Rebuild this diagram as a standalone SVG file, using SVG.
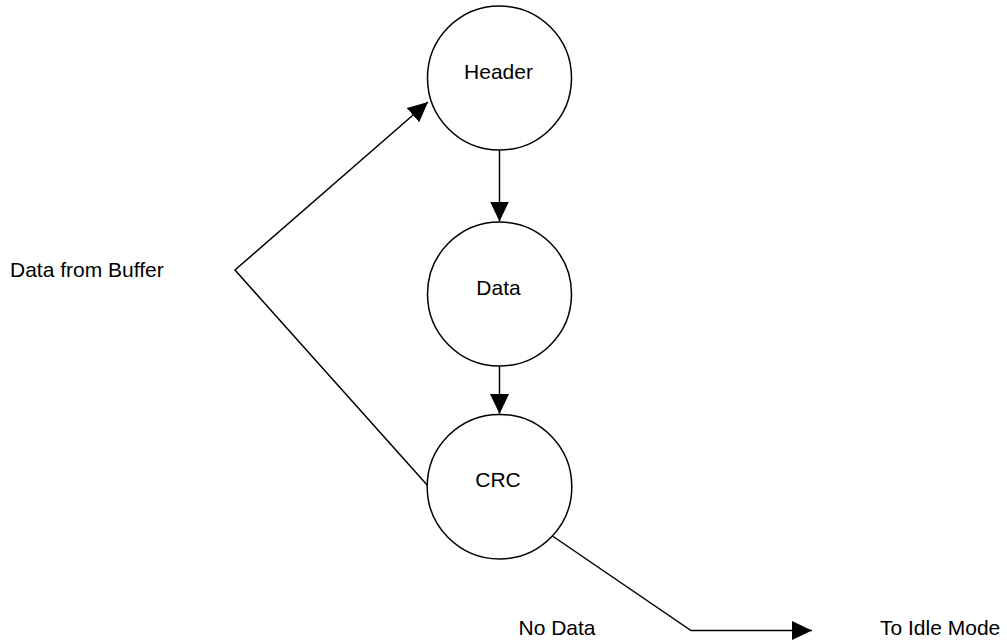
<svg xmlns="http://www.w3.org/2000/svg" width="1007" height="643" viewBox="0 0 1007 643">
  <style>
    .node { fill: #ffffff; stroke: #000000; stroke-width: 1.5; }
    .lbl { font-family: "Liberation Sans", Arial, sans-serif; font-size: 21px; fill: #000000; }
    .mid { text-anchor: middle; }
    .edge { fill: none; stroke: #000000; stroke-width: 1.5; marker-end: url(#arrow); }
  </style>
  <defs>
    <marker id="arrow" markerUnits="userSpaceOnUse" markerWidth="20" markerHeight="19" refX="20" refY="9.5" orient="auto" viewBox="0 0 20 19">
      <path d="M0,0 L20,9.5 L0,19 Z" fill="#000000"/>
    </marker>
  </defs>
  <rect width="1007" height="643" fill="#ffffff"/>
  <g id="connectors">
    <line class="edge" x1="499.5" y1="150" x2="499.5" y2="221.5"/>
    <line class="edge" x1="499.5" y1="366" x2="499.5" y2="414"/>
    <polyline class="edge" points="428,486 235,270 428,102"/>
    <polyline class="edge" points="551,535 691,630.5 812,630.5"/>
  </g>
  <g id="header">
    <circle class="node" cx="499.5" cy="78" r="72"/>
    <text class="lbl mid" x="498.5" y="79">Header</text>
  </g>
  <g id="data">
    <circle class="node" cx="499.5" cy="294" r="72"/>
    <text class="lbl mid" x="498.5" y="295">Data</text>
  </g>
  <g id="crc">
    <circle class="node" cx="499.5" cy="486.7" r="72.3"/>
    <text class="lbl mid" x="498" y="487">CRC</text>
  </g>
  <g id="labels">
    <text class="lbl" x="10" y="277">Data from Buffer</text>
    <text class="lbl" x="518.5" y="635">No Data</text>
    <text class="lbl" x="880" y="635">To Idle Mode</text>
  </g>
</svg>
